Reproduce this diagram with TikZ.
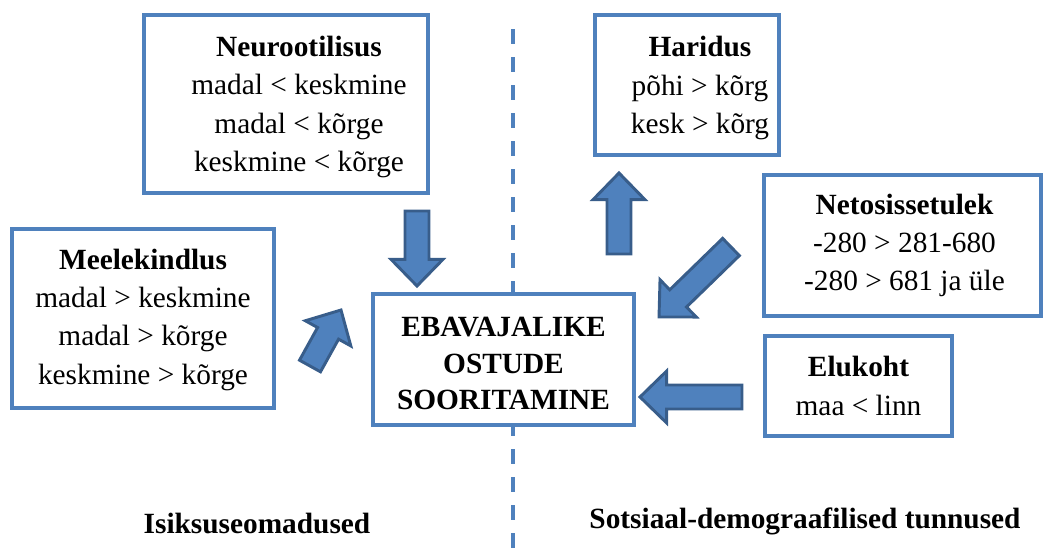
\documentclass[tikz,border=0pt]{standalone}
\usepackage{fontspec}
\setmainfont{Liberation Serif}
\usetikzlibrary{calc}
\definecolor{boxblue}{HTML}{4F81BD}
\definecolor{arrowedge}{HTML}{385D8A}
\tikzset{
  frame/.style={draw=boxblue, line width=3pt, fill=white, inner sep=0pt},
  boxtext/.style={inner sep=0pt, align=center, font=\fontsize{22}{28.75}\selectfont},
  hubtext/.style={boxtext, font=\fontsize{22}{27.5}\selectfont\bfseries},
  caption/.style={inner sep=0pt, font=\fontsize{22}{26}\selectfont\bfseries},
  blockarr/.style={fill=boxblue, draw=arrowedge, line width=2.2pt, line join=miter},
  divider/.style={draw=boxblue, line width=3pt, dash pattern=on 11pt off 10pt},
}
% block arrow from a tail point to a tip point
\newcommand\blockarrow[2]{%
  \draw[blockarr] let \p1=($(#2)-(#1)$), \n1={atan2(\y1,\x1)}, \n2={veclen(\x1,\y1)} in
    [shift={(#1)}, rotate=\n1]
    (0pt,-9pt) -- (\n2-20pt,-9pt) -- (\n2-20pt,-19.5pt) -- (\n2,0pt)
    -- (\n2-20pt,19.5pt) -- (\n2-20pt,9pt) -- (0pt,9pt) -- cycle;}
\begin{document}
\begin{tikzpicture}[x=0.75pt,y=-0.75pt]
\useasboundingbox (0,0) rectangle (1046,550);

% dividing line between the two groups
\coordinate (divTop) at (513,29);
\coordinate (divBot) at (513,552);
\draw[divider] (divTop) -- (divBot);

% factor boxes
\node[frame, minimum width=213pt, minimum height=133.5pt] (neuro) at (286,104) {};
\node[frame, minimum width=138pt, minimum height=105pt] (haridus) at (687,85) {};
\node[frame, minimum width=196.5pt, minimum height=134.25pt] (meele) at (143,318.5) {};
\node[frame, minimum width=207.75pt, minimum height=105.75pt] (neto) at (902.5,245.5) {};
\node[frame, minimum width=140.25pt, minimum height=75pt] (elukoht) at (858.5,386) {};
\node[frame, minimum width=195.75pt, minimum height=98.25pt] (ostud) at (503.5,359.5) {};

% box texts
\node[boxtext] (neuroText) at ($(neuro.center)+(13,3)$)
  {\textbf{Neurootilisus}\\madal < keskmine\\madal < kõrge\\keskmine < kõrge};
\node[boxtext] (haridusText) at ($(haridus.center)+(13,3)$)
  {\textbf{Haridus}\\põhi > kõrg\\kesk > kõrg};
\node[boxtext] (meeleText) at ($(meele.center)+(0,1)$)
  {\textbf{Meelekindlus}\\madal > keskmine\\madal > kõrge\\keskmine > kõrge};
\node[boxtext] (netoText) at ($(neto.center)+(2,0)$)
  {\textbf{Netosissetulek}\\-280 > 281-680\\-280 > 681 ja üle};
\node[boxtext] (elukohtText) at (elukoht.center)
  {\textbf{Elukoht}\\maa < linn};
\node[hubtext] (ostudText) at ($(ostud.center)+(0,4)$)
  {EBAVAJALIKE\\OSTUDE\\SOORITAMINE};

% group captions
\node[caption] (isik) at (257,523) {Isiksuseomadused};
\node[caption] (sots) at (805,521) {Sotsiaal-demograafilised tunnused};

% arrow end points
\coordinate (neuroTail) at (417,211);
\coordinate (neuroTip) at (417,286);
\coordinate (meeleTail) at (310,366);
\coordinate (meeleTip) at (341,310);
\coordinate (haridusTail) at (619,254);
\coordinate (haridusTip) at (619,173);
\coordinate (netoTail) at (731,247);
\coordinate (netoTip) at (659,317);
\coordinate (elukohtTail) at (742,397);
\coordinate (elukohtTip) at (640,397);

\blockarrow{neuroTail}{neuroTip}
\blockarrow{meeleTail}{meeleTip}
\blockarrow{haridusTail}{haridusTip}
\blockarrow{netoTail}{netoTip}
\blockarrow{elukohtTail}{elukohtTip}
\end{tikzpicture}
\end{document}
